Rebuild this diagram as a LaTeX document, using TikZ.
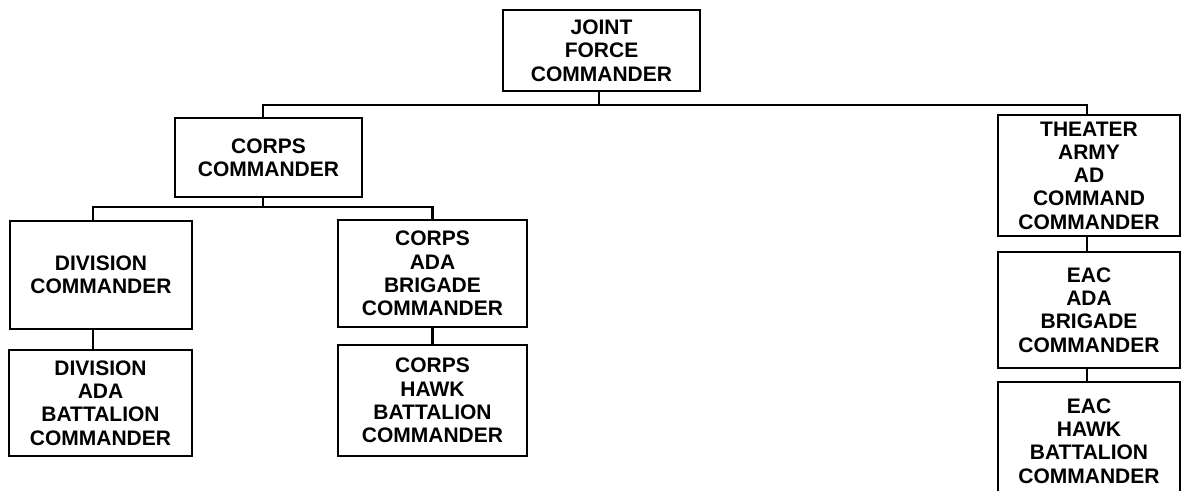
\documentclass[tikz,border=0pt]{standalone}
\usepackage{fontspec}
\setmainfont{Liberation Sans}
\begin{document}
\begin{tikzpicture}[x=1pt,y=-1pt,
  box/.style={draw=black, line width=2.4pt, rectangle, inner sep=0pt, align=center,
    font=\fontsize{21}{23.3}\selectfont\bfseries},
  conn/.style={draw=black, line width=2.2pt}]
\useasboundingbox (0,0) rectangle (1182,490);
\clip (0,0) rectangle (1182,490);
\node[box, minimum width=197pt, minimum height=81pt] (jfc) at (601.5,50.5) {JOINT\\FORCE\\COMMANDER};
\node[box, minimum width=187pt, minimum height=79pt] (corps) at (268.5,157.5) {CORPS\\COMMANDER};
\node[box, minimum width=182pt, minimum height=108pt] (div) at (101,275) {DIVISION\\COMMANDER};
\node[box, minimum width=183pt, minimum height=106pt] (divada) at (100.5,403) {DIVISION\\ADA\\BATTALION\\COMMANDER};
\node[box, minimum width=189pt, minimum height=107pt] (cada) at (432.5,273.5) {CORPS\\ADA\\BRIGADE\\COMMANDER};
\node[box, minimum width=189pt, minimum height=111pt] (chawk) at (432.5,400.5) {CORPS\\HAWK\\BATTALION\\COMMANDER};
\node[box, minimum width=182pt, minimum height=121pt] (theater) at (1089,175.5) {THEATER\\ARMY\\AD\\COMMAND\\COMMANDER};
\node[box, minimum width=182pt, minimum height=116pt] (eacada) at (1089,310) {EAC\\ADA\\BRIGADE\\COMMANDER};
\node[box, minimum width=182pt, minimum height=118pt] (eachawk) at (1089,441) {EAC\\HAWK\\BATTALION\\COMMANDER};
\coordinate (topbus) at (0,105);
\coordinate (corpsbus) at (0,207);
% top level
\draw[conn] ([xshift=-2.5pt]jfc.south) -- ([xshift=-2.5pt]jfc.south |- topbus);
\draw[conn] ([xshift=-5.5pt]corps.north) -- ([xshift=-5.5pt]corps.north |- topbus) -| ([xshift=-2pt]theater.north);
% corps level
\draw[conn] ([xshift=-5.5pt]corps.south) -- ([xshift=-5.5pt]corps.south |- corpsbus);
\draw[conn] ([xshift=-8pt]div.north) -- ([xshift=-8pt]div.north |- corpsbus) -| (cada.north);
% vertical links
\draw[conn] ([xshift=-8pt]div.south) -- ([xshift=-8pt]div.south |- divada.north);
\draw[conn] (cada.south) -- (chawk.north);
\draw[conn] ([xshift=-2pt]theater.south) -- ([xshift=-2pt]theater.south |- eacada.north);
\draw[conn] ([xshift=-2pt]eacada.south) -- ([xshift=-2pt]eacada.south |- eachawk.north);
\end{tikzpicture}
\end{document}
